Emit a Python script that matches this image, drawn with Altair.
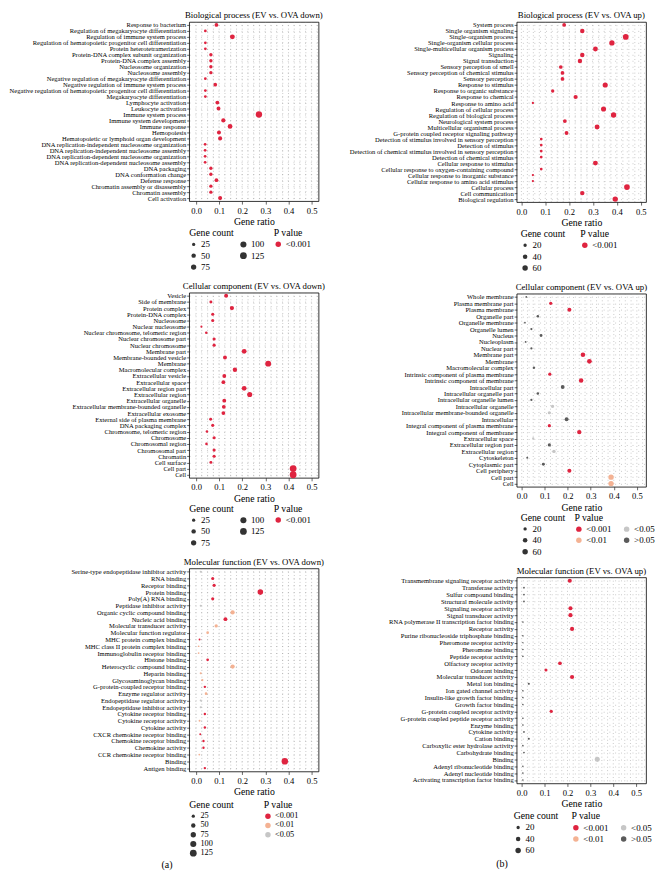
import altair as alt
import pandas as pd

# ------------------------------------------------------------------ data
P_LEVELS = ["<0.001", "<0.01", "<0.05", ">0.05"]
P_COLORS = ["#DF2440", "#F4B293", "#C6C6C6", "#5B5B5B"]
X_TICKS = [0.0, 0.1, 0.2, 0.3, 0.4, 0.5]
GRID_X = [0.0, 0.025, 0.05, 0.075, 0.1, 0.125, 0.15, 0.175, 0.2, 0.225, 0.25,
          0.275, 0.3, 0.325, 0.35, 0.375, 0.4, 0.425, 0.45, 0.475, 0.5, 0.525]

# Biological process (EV vs. OVA down)
BPD_TERMS = ["Response to bacterium", "Regulation of megakaryocyte differentiation",
             "Regulation of immune system process",
             "Regulation of hematopoietic progenitor cell differentiation",
             "Protein heterotetramerization", "Protein-DNA complex subunit organization",
             "Protein-DNA complex assembly", "Nucleosome organization", "Nucleosome assembly",
             "Negative regulation of megakaryocyte differentiation",
             "Negative regulation of immune system process",
             "Negative regulation of hematopoietic progenitor cell differentiation",
             "Megakaryocyte differentiation", "Lymphocyte activation", "Leukocyte activation",
             "Immune system process", "Immune system development", "Immune response",
             "Hemopoiesis", "Hematopoietic or lymphoid organ development",
             "DNA replication-independent nucleosome organization",
             "DNA replication-independent nucleosome assembly",
             "DNA replication-dependent nucleosome organization",
             "DNA replication-dependent nucleosome assembly", "DNA packaging",
             "DNA conformation change", "Defense response", "Chromatin assembly or disassembly",
             "Chromatin assembly", "Cell activation"]
BPD_RATIO = [0.088, 0.040, 0.157, 0.040, 0.040, 0.064, 0.064, 0.064, 0.064, 0.040,
             0.083, 0.040, 0.040, 0.092, 0.097, 0.272, 0.118, 0.147, 0.099, 0.104,
             0.039, 0.039, 0.039, 0.039, 0.064, 0.064, 0.088, 0.064, 0.064, 0.104]
BPD_COUNT = [35, 16, 63, 16, 16, 26, 26, 26, 26, 15, 33, 16, 16, 37, 39, 109, 47, 59, 40, 42,
             16, 16, 16, 16, 26, 26, 35, 26, 26, 42]
BPD_P = ["<0.001"] * 30

# Cellular component (EV vs. OVA down)
CCD_TERMS = ["Vesicle", "Side of membrane", "Protein complex", "Protein-DNA complex",
             "Nucleosome", "Nuclear nucleosome", "Nuclear chromosome, telomeric region",
             "Nuclear chromosome part", "Nuclear chromosome", "Membrane part",
             "Membrane-bounded vesicle", "Membrane", "Macromolecular complex",
             "Extracellular vesicle", "Extracellular space", "Extracellular region part",
             "Extracellular region", "Extracellular organelle",
             "Extracellular membrane-bounded organelle", "Extracellular exosome",
             "External side of plasma membrane", "DNA packaging complex",
             "Chromosome, telomeric region", "Chromosome", "Chromosomal region",
             "Chromosomal part", "Chromatin", "Cell surface", "Cell part", "Cell"]
CCD_RATIO = [0.130, 0.064, 0.155, 0.072, 0.072, 0.023, 0.044, 0.078, 0.078, 0.208,
             0.125, 0.312, 0.168, 0.122, 0.118, 0.208, 0.232, 0.122, 0.120, 0.118,
             0.063, 0.072, 0.047, 0.078, 0.045, 0.078, 0.078, 0.064, 0.420, 0.420]
CCD_COUNT = [39, 19, 46, 22, 22, 7, 13, 23, 23, 62, 37, 94, 50, 37, 35, 62, 70, 37, 36, 35,
             19, 22, 14, 23, 13, 23, 23, 19, 126, 126]
CCD_P = ["<0.001"] * 30

# Molecular function (EV vs. OVA down)
MFD_TERMS = ["Serine-type endopeptidase inhibitor activity", "RNA binding", "Receptor binding",
             "Protein binding", "Poly(A) RNA binding", "Peptidase inhibitor activity",
             "Organic cyclic compound binding", "Nucleic acid binding",
             "Molecular transducer activity", "Molecular function regulator",
             "MHC protein complex binding", "MHC class II protein complex binding",
             "Immunoglobulin receptor binding", "Histone binding",
             "Heterocyclic compound binding", "Heparin binding", "Glycosaminoglycan binding",
             "G-protein-coupled receptor binding", "Enzyme regulator activity",
             "Endopeptidase regulator activity", "Endopeptidase inhibitor activity",
             "Cytokine receptor binding", "Cytokine receptor activity", "Cytokine activity",
             "CXCR chemokine receptor binding", "Chemokine receptor binding",
             "Chemokine activity", "CCR chemokine receptor binding", "Binding",
             "Antigen binding"]
MFD_RATIO = [0.020, 0.072, 0.078, 0.278, 0.072, 0.020, 0.158, 0.127, 0.087, 0.050,
             0.015, 0.011, 0.011, 0.050, 0.158, 0.020, 0.027, 0.038, 0.043, 0.020,
             0.020, 0.038, 0.015, 0.038, 0.018, 0.032, 0.032, 0.014, 0.384, 0.038]
MFD_COUNT = [6, 22, 23, 83, 22, 6, 47, 38, 26, 15, 5, 3, 3, 15, 47, 6, 8, 11, 13, 6,
             6, 11, 5, 11, 5, 10, 10, 4, 115, 11]
MFD_P = ["<0.05", "<0.001", "<0.001", "<0.001", "<0.001", "<0.05", "<0.01", "<0.001",
         "<0.01", "<0.01", "<0.001", "<0.01", "<0.01", "<0.001", "<0.01", "<0.01", "<0.01",
         "<0.001", "<0.01", "<0.05", "<0.05", "<0.001", "<0.01", "<0.001", "<0.001",
         "<0.001", "<0.001", "<0.01", "<0.001", "<0.001"]

# Biological process (EV vs. OVA up)
BPU_TERMS = ["System process", "Single organism signaling", "Single-organism process",
             "Single-organism cellular process", "Single-multicellular organism process",
             "Signaling", "Signal transduction", "Sensory perception of smell",
             "Sensory perception of chemical stimulus", "Sensory perception",
             "Response to stimulus", "Response to organic substance", "Response to chemical",
             "Response to amino acid", "Regulation of cellular process",
             "Regulation of biological process", "Neurological system process",
             "Multicellular organismal process", "G-protein coupled receptor signaling pathway",
             "Detection of stimulus involved in sensory perception", "Detection of stimulus",
             "Detection of chemical stimulus involved in sensory perception",
             "Detection of chemical stimulus", "Cellular response to stimulus",
             "Cellular response to oxygen-containing compound",
             "Cellular response to inorganic substance",
             "Cellular response to amino acid stimulus", "Cellular process",
             "Cell communication", "Biological regulation"]
BPU_RATIO = [0.179, 0.255, 0.437, 0.379, 0.310, 0.255, 0.245, 0.165, 0.172, 0.172,
             0.351, 0.131, 0.227, 0.048, 0.344, 0.386, 0.182, 0.317, 0.189, 0.083,
             0.083, 0.083, 0.083, 0.310, 0.083, 0.048, 0.048, 0.442, 0.255, 0.393]
BPU_COUNT = [27, 38, 66, 57, 47, 38, 37, 25, 26, 26, 53, 20, 34, 7, 52, 58, 27, 48, 28, 12,
             12, 12, 12, 47, 12, 7, 7, 66, 38, 59]
BPU_P = ["<0.001"] * 30

# Cellular component (EV vs. OVA up)
CCU_TERMS = ["Whole membrane", "Plasma membrane part", "Plasma membrane", "Organelle part",
             "Organelle membrane", "Organelle lumen", "Nucleus", "Nucleoplasm", "Nuclear part",
             "Membrane part", "Membrane", "Macromolecular complex",
             "Intrinsic component of plasma membrane", "Intrinsic component of membrane",
             "Intracellular part", "Intracellular organelle part",
             "Intracellular organelle lumen", "Intracellular organelle",
             "Intracellular membrane-bounded organelle", "Intracellular",
             "Integral component of plasma membrane", "Integral component of membrane",
             "Extracellular space", "Extracellular region part", "Extracellular region",
             "Cytoskeleton", "Cytoplasmic part", "Cell periphery", "Cell part", "Cell"]
CCU_RATIO = [0.020, 0.126, 0.207, 0.070, 0.014, 0.042, 0.084, 0.017, 0.042, 0.266,
             0.294, 0.053, 0.122, 0.258, 0.178, 0.070, 0.042, 0.134, 0.120, 0.195,
             0.120, 0.250, 0.050, 0.120, 0.140, 0.024, 0.094, 0.207, 0.388, 0.388]
CCU_COUNT = [3, 19, 31, 10, 2, 6, 13, 3, 6, 40, 44, 8, 18, 39, 27, 10, 6, 20, 18, 29,
             18, 37, 7, 18, 21, 4, 14, 31, 58, 58]
CCU_P = [">0.05", "<0.001", "<0.001", ">0.05", ">0.05", ">0.05", ">0.05", ">0.05", ">0.05",
         "<0.001", "<0.001", ">0.05", "<0.001", "<0.001", ">0.05", ">0.05", ">0.05", "<0.05",
         "<0.05", ">0.05", "<0.001", "<0.001", "<0.05", ">0.05", "<0.05", ">0.05", ">0.05",
         "<0.001", "<0.01", "<0.01"]

# Molecular function (EV vs. OVA up)
MFU_TERMS = ["Transmembrane signaling receptor activity", "Transferase activity",
             "Sulfur compound binding", "Structural molecule activity",
             "Signaling receptor activity", "Signal transducer activity",
             "RNA polymerase II transcription factor binding", "Receptor activity",
             "Purine ribonucleoside triphosphate binding", "Pheromone receptor activity",
             "Pheromone binding", "Peptide receptor activity", "Olfactory receptor activity",
             "Odorant binding", "Molecular transducer activity", "Metal ion binding",
             "Ion gated channel activity", "Insulin-like growth factor binding",
             "Growth factor binding", "G-protein coupled receptor activity",
             "G-protein coupled peptide receptor activity", "Enzyme binding",
             "Cytokine activity", "Cation binding", "Carboxylic ester hydrolase activity",
             "Carbohydrate binding", "Binding", "Adenyl ribonucleotide binding",
             "Adenyl nucleotide binding", "Activating transcription factor binding"]
MFU_RATIO = [0.210, 0.010, 0.010, 0.010, 0.213, 0.213, 0.005, 0.220, 0.005, 0.005,
             0.005, 0.005, 0.167, 0.106, 0.220, 0.031, 0.005, 0.005, 0.005, 0.129,
             0.005, 0.005, 0.010, 0.031, 0.005, 0.010, 0.330, 0.005, 0.005, 0.005]
MFU_COUNT = [32, 2, 2, 2, 32, 34, 1, 33, 1, 0, 0, 1, 25, 16, 33, 5, 1, 1, 1, 19,
             1, 1, 2, 5, 1, 2, 50, 1, 1, 1]
MFU_P = ["<0.001", ">0.05", ">0.05", ">0.05", "<0.001", "<0.001", ">0.05", "<0.001",
         ">0.05", ">0.05", ">0.05", ">0.05", "<0.001", "<0.001", "<0.001", ">0.05", ">0.05",
         ">0.05", ">0.05", "<0.001", ">0.05", ">0.05", ">0.05", ">0.05", ">0.05", ">0.05",
         "<0.05", ">0.05", ">0.05", ">0.05"]

SERIF = "Liberation Serif"


def panel(title, terms, ratio, count, pval, width, height, xdom, size_dom, size_rng,
          size_vals, size_cols, p_vals, p_cols, gx, px, leg_y,
          size_col_pad=29, p_col_pad=10, row_pad=1.5, leg_font=9):
    df = pd.DataFrame({"term": terms, "ratio": ratio, "count": count, "p": pval})
    gdf = pd.DataFrame({"ratio": GRID_X})
    xscale = alt.Scale(domain=xdom, nice=False, zero=False)
    xaxis = alt.Axis(title="Gene ratio", values=X_TICKS, format=".1f", grid=False)
    grid = alt.Chart(gdf).mark_rule(clip=True, strokeDash=[0.8, 2.6], color="#8a8a8a",
                                    strokeWidth=0.55).encode(
        x=alt.X("ratio:Q", scale=xscale, axis=xaxis))
    pts = alt.Chart(df).mark_circle(opacity=1).encode(
        x=alt.X("ratio:Q", scale=xscale, axis=xaxis),
        y=alt.Y("term:N", sort=terms, axis=alt.Axis(title=None)),
        size=alt.Size("count:Q", scale=alt.Scale(domain=size_dom, range=size_rng),
                      legend=alt.Legend(title="Gene count", orient="none", legendX=gx,
                                        legendY=leg_y, values=size_vals, columns=size_cols,
                                        columnPadding=size_col_pad, direction="vertical",
                                        rowPadding=row_pad, labelFontSize=leg_font,
                                        symbolFillColor="#333333", symbolStrokeWidth=0,
                                        symbolOpacity=1)),
        color=alt.Color("p:N", scale=alt.Scale(domain=P_LEVELS, range=P_COLORS),
                        legend=alt.Legend(title="P value", orient="none", legendX=px,
                                          legendY=leg_y, values=p_vals, columns=p_cols,
                                          columnPadding=p_col_pad, direction="vertical",
                                          rowPadding=row_pad, labelFontSize=leg_font,
                                          symbolSize=30, symbolType="circle",
                                          symbolStrokeWidth=0, symbolOpacity=1)),
    )
    return alt.layer(grid, pts).properties(width=width, height=height,
                                            title=alt.TitleParams(title))


L_SIZE = dict(size_dom=[0, 125], size_rng=[2, 46])
R_SIZE = dict(size_dom=[0, 60], size_rng=[2, 30])
LX = [-0.03, 0.53]

bp_down = panel("Biological process (EV vs. OVA down)", BPD_TERMS, BPD_RATIO, BPD_COUNT, BPD_P,
                130, 180, LX, size_vals=[25, 50, 75, 100, 125], size_cols=2,
                p_vals=["<0.001"], p_cols=1, gx=0, px=85, leg_y=207, **L_SIZE)
cc_down = panel("Cellular component (EV vs. OVA down)", CCD_TERMS, CCD_RATIO, CCD_COUNT, CCD_P,
                130, 186, LX, size_vals=[25, 50, 75, 100, 125], size_cols=2,
                p_vals=["<0.001"], p_cols=1, gx=0, px=85, leg_y=212, **L_SIZE)
mf_down = panel("Molecular function (EV vs. OVA down)", MFD_TERMS, MFD_RATIO, MFD_COUNT, MFD_P,
                130, 204, LX, size_vals=[25, 50, 75, 100, 125], size_cols=1,
                p_vals=["<0.001", "<0.01", "<0.05"], p_cols=1, gx=0, px=75, leg_y=233,
                row_pad=0.3, leg_font=8.3, **L_SIZE)

bp_up = panel("Biological process (EV vs. OVA up)", BPU_TERMS, BPU_RATIO, BPU_COUNT, BPU_P,
              130, 181, [-0.02, 0.522], size_vals=[20, 40, 60], size_cols=1,
              p_vals=["<0.001"], p_cols=1, gx=4, px=64, leg_y=208, **R_SIZE)
cc_up = panel("Cellular component (EV vs. OVA up)", CCU_TERMS, CCU_RATIO, CCU_COUNT, CCU_P,
              130, 194, [-0.022, 0.54], size_vals=[20, 40, 60], size_cols=1,
              p_vals=["<0.001", "<0.01", "<0.05", ">0.05"], p_cols=2, gx=4, px=58,
              leg_y=220, **R_SIZE)
mf_up = panel("Molecular function (EV vs. OVA up)", MFU_TERMS, MFU_RATIO, MFU_COUNT, MFU_P,
              130, 207, [-0.022, 0.543], size_vals=[20, 40, 60], size_cols=1,
              p_vals=["<0.001", "<0.01", "<0.05", ">0.05"], p_cols=2, gx=-3, px=55,
              leg_y=235, **R_SIZE)

col_title = dict(orient="bottom", anchor="middle", fontSize=10, offset=3, frame="bounds")

left = alt.vconcat(bp_down, cc_down, mf_down, spacing=7).resolve_scale(
    color="independent", size="independent").properties(
    title=alt.TitleParams("(a)", **col_title))
right = alt.vconcat(bp_up, cc_up, mf_up, spacing=7).resolve_scale(
    color="independent", size="independent").properties(
    title=alt.TitleParams("(b)", **col_title))

chart = alt.hconcat(left, right, spacing=22, padding=0).resolve_scale(
    color="independent", size="independent"
).configure_view(stroke="black", strokeWidth=0.8).configure_axis(
    labelFont=SERIF, titleFont=SERIF, labelColor="black", titleColor="black",
    tickColor="black", domain=False, titleFontWeight="normal"
).configure_axisY(
    labelFontSize=6.6, tickSize=2.5, tickWidth=0.6, labelPadding=1, grid=True,
    gridDash=[0.8, 5], gridColor="#8a8a8a", gridWidth=0.55, labelLimit=400
).configure_axisX(
    labelFontSize=8.6, tickSize=3, tickWidth=0.6, labelPadding=2, titleFontSize=9.8,
    titlePadding=2, labelFlush=False
).configure_legend(
    titleFont=SERIF, labelFont=SERIF, titleFontSize=9.8, labelFontSize=9,
    titleFontWeight="normal", rowPadding=1.5, titlePadding=2, labelOffset=3,
    titleColor="black", labelColor="black"
).configure_title(
    font=SERIF, fontSize=8.8, fontWeight="normal", anchor="middle", frame="group",
    offset=2, color="black"
)

chart.save("out.html", embed_options={"renderer": "svg", "actions": False})
